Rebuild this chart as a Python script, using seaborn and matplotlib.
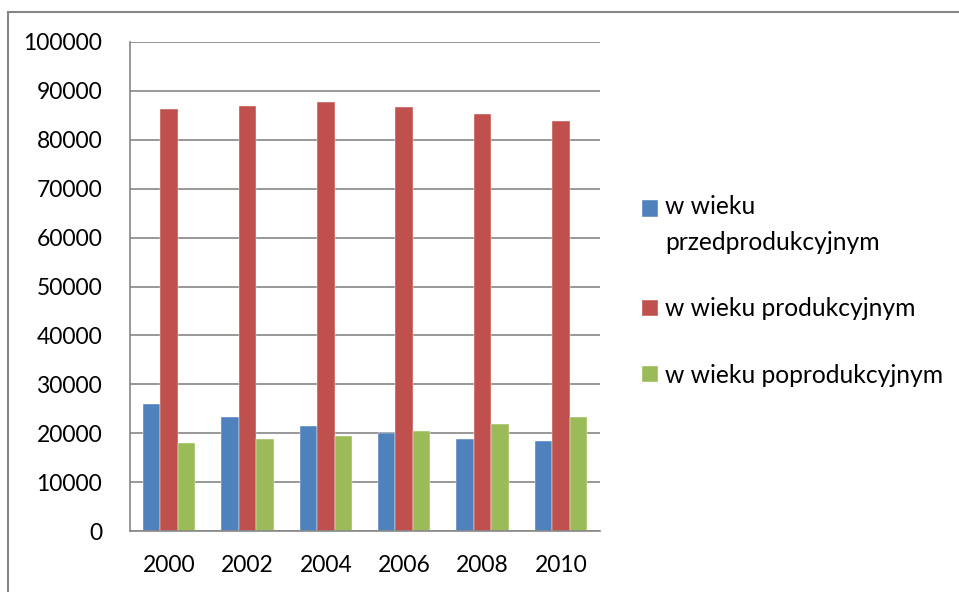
import pandas as pd
import matplotlib.pyplot as plt
import matplotlib.patches as mpatches
from matplotlib.legend_handler import HandlerPatch
import seaborn as sns

# dane
lata = ['2000', '2002', '2004', '2006', '2008', '2010']
grupy = ['w wieku\nprzedprodukcyjnym', 'w wieku produkcyjnym', 'w wieku poprodukcyjnym']
przedprodukcyjny = [26050, 23400, 21500, 20050, 18900, 18450]
produkcyjny = [86200, 86950, 87700, 86800, 85300, 83750]
poprodukcyjny = [18050, 18850, 19500, 20550, 21850, 23400]
kolory = ['#4F81BD', '#C0504D', '#9BBB59']

szary = '#868686'

def przygotuj_dane():
    wiersze = []
    for grupa, wartosci in zip(grupy, [przedprodukcyjny, produkcyjny, poprodukcyjny]):
        for rok, w in zip(lata, wartosci):
            wiersze.append({'Rok': rok, 'Liczba': w, 'Grupa': grupa})
    return pd.DataFrame(wiersze)

# kwadrat legendy wyrównany do pierwszej linii tekstu
def kwadrat_w_gore(legend, orig_handle, xdescent, ydescent, width, height, fontsize):
    return mpatches.Rectangle((-xdescent, -ydescent + 12.0), width, height)

def rysuj(df):
    sns.set_style('white')
    plt.rcParams['font.family'] = ['Lato', 'DejaVu Sans']
    plt.rcParams['text.color'] = 'black'

    fig = plt.figure(figsize=(9.59, 5.92), dpi=100)
    ax = fig.add_axes([130 / 959, 1 - 531 / 592, 470 / 959, 489 / 592])

    sns.barplot(data=df, x='Rok', y='Liczba', hue='Grupa', palette=kolory,
                saturation=1, width=0.67, ax=ax, edgecolor='white', linewidth=0.3)

    ax.set_ylim(0, 100000)
    ax.set_yticks(range(0, 100001, 10000))
    ax.set_xlim(-0.5, len(lata) - 0.5)
    ax.set_xlabel('')
    ax.set_ylabel('')
    ax.grid(axis='y', color=szary, linewidth=1.2)
    ax.set_axisbelow(True)

    for s in ['top', 'right']:
        ax.spines[s].set_visible(False)
    for s in ['left', 'bottom']:
        ax.spines[s].set_color(szary)
        ax.spines[s].set_linewidth(1.2)

    # znaczniki osi x na granicach kategorii
    ax.set_xticks([i - 0.5 for i in range(len(lata) + 1)], minor=True)
    ax.tick_params(axis='x', which='major', length=0, pad=17, labelsize=16.5)
    ax.tick_params(axis='x', which='minor', length=6, width=1.2, color=szary, direction='out')
    ax.tick_params(axis='y', length=6, width=1.2, color=szary, direction='out', pad=14, labelsize=16.5)
    ax.tick_params(axis='both', labelcolor='black')

    handles, labels = ax.get_legend_handles_labels()
    leg = ax.legend(handles, labels, loc='center left', bbox_to_anchor=(642 / 959, 1 - 291 / 592),
                    bbox_transform=fig.transFigure, frameon=False, fontsize=17.7,
                    handlelength=0.65, handleheight=0.65, handletextpad=0.3,
                    labelspacing=1.77, borderaxespad=0, borderpad=0,
                    handler_map={handles[0]: HandlerPatch(patch_func=kwadrat_w_gore)})
    leg.get_texts()[0].set_linespacing(1.67)
    for t in leg.get_texts():
        t.set_color('black')

    # ramka wykresu
    ramka = mpatches.Rectangle((8 / 959, -0.1), 1.2, 1 - 12 / 592 + 0.1,
                               transform=fig.transFigure, fill=False,
                               edgecolor=szary, linewidth=1.5, clip_on=False)
    fig.patches.append(ramka)

    fig.savefig('out.png', dpi=100)

def main():
    df = przygotuj_dane()
    rysuj(df)

if __name__ == "__main__":
    main()
